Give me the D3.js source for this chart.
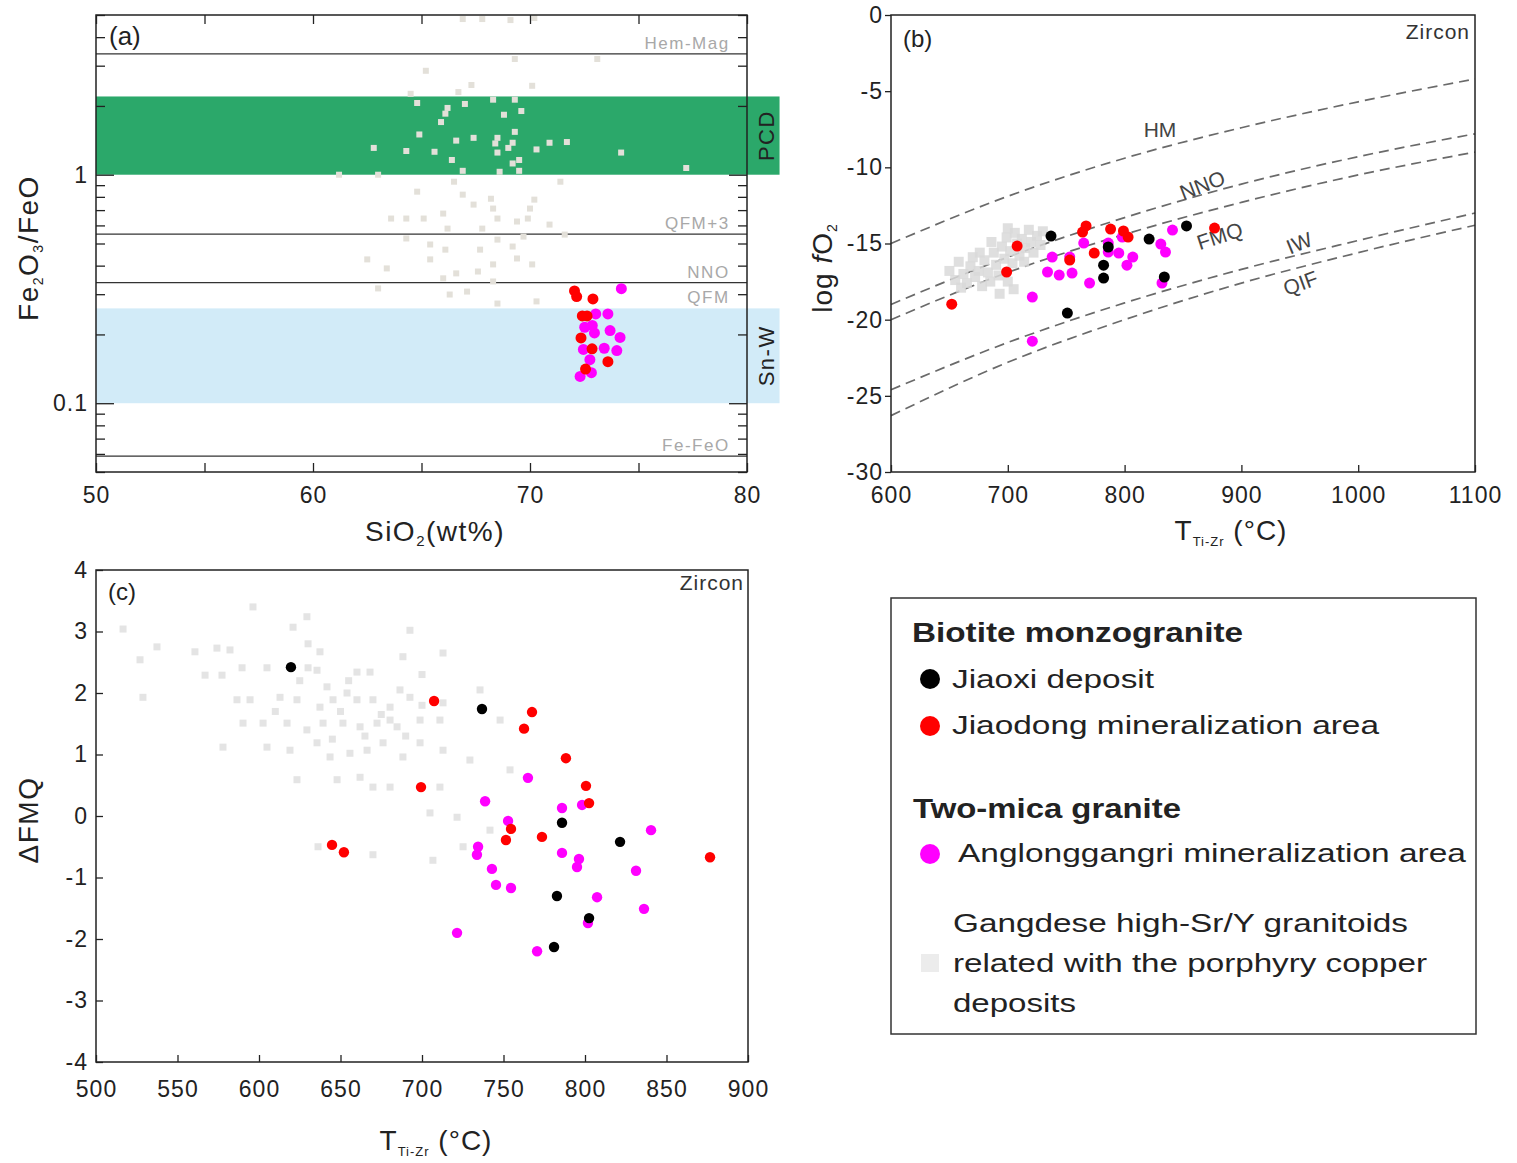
<!DOCTYPE html>
<html>
<head>
<meta charset="utf-8">
<script src="https://cdn.jsdelivr.net/npm/d3@7"></script>
<style>
  body { margin: 0; background: #fff; }
</style>
</head>
<body>
<div id="chart"></div>
<script>
// ---------- panel (a): Fe2O3/FeO vs SiO2 ----------
const aGray = [[66.9,4.80],[67.8,4.80],[69.1,4.75],[70.2,4.85],[69.3,3.21],[73.1,3.21],[65.2,2.85],[67.3,2.47],[66.7,2.30],[70.1,2.45],[64.5,2.26],
  [64.8,2.06],[66.2,1.96],[66.1,1.85],[67.0,2.04],[68.3,2.13],[69.3,2.13],[69.6,1.90],[68.8,1.83],[65.9,1.70],[69.3,1.54],[64.9,1.50],[66.6,1.41],
  [67.4,1.45],[68.5,1.45],[68.4,1.37],[69.2,1.38],[69.0,1.31],[62.8,1.31],[64.3,1.27],[65.6,1.26],[68.5,1.25],[70.3,1.29],[70.9,1.38],[71.7,1.39],
  [74.2,1.25],[66.4,1.16],[69.5,1.16],[69.2,1.12],[77.2,1.07],[66.9,1.04],[68.6,1.03],[69.5,1.04],[61.2,1.00],[63.0,1.00],
  [64.8,0.843],[66.5,0.932],[66.9,0.818],[67.4,0.740],[68.2,0.785],[68.3,0.711],[70.0,0.711],[70.2,0.778],[71.4,0.932],[63.6,0.643],[64.3,0.643],
  [65.1,0.643],[66.0,0.676],[66.2,0.581],[67.8,0.581],[68.5,0.643],[69.4,0.624],[69.9,0.643],[70.9,0.605],[71.6,0.547],[64.3,0.526],[65.4,0.495],
  [66.1,0.470],[67.7,0.470],[68.5,0.520],[69.2,0.485],[69.7,0.536],[62.5,0.426],[63.4,0.389],[65.4,0.426],[66.6,0.370],[67.6,0.377],[68.3,0.405],
  [69.4,0.430],[70.1,0.405],[63.0,0.318],[66.0,0.352],[68.3,0.341],[67.1,0.308],[66.3,0.299],[68.5,0.273],[70.3,0.279]];
const aRed = [[72.05,0.310],[72.15,0.293],[72.9,0.286],[72.41,0.241],[72.63,0.241],[72.35,0.193],[72.86,0.173],[73.59,0.152],[72.56,0.141]];
const aMagenta = [[74.21,0.317],[73.03,0.246],[73.59,0.246],[72.52,0.215],[72.87,0.219],[72.97,0.203],[73.69,0.208],[74.15,0.194],
  [72.46,0.172],[73.42,0.174],[74.0,0.170],[72.76,0.155],[72.31,0.131],[72.83,0.136]];
const aBandNames = ["PCD", "Sn-W"];
const aBandLow = [1.0, 0.1];
const aBandHigh = [2.2, 0.26];
const aBufferNames = ["Hem-Mag", "QFM+3", "NNO", "Fe-FeO"];
const aBufferValues = [3.38, 0.55, 0.337, 0.0587];
const aXTicks = [50, 55, 60, 65, 70, 75, 80];
const aYMajor = [0.1, 1];
const aYMinor = [0.05,0.06,0.07,0.08,0.09,0.2,0.3,0.4,0.5,0.6,0.7,0.8,0.9,2,3,4,5];

// ---------- panel (b): log fO2 vs T ----------
const bGray = [[650,-16.8],[655,-17.4],[658,-16.2],[662,-17.0],[665,-17.6],[668,-16.5],[670,-15.9],[672,-17.2],[675,-16.8],[678,-17.8],
  [680,-16.1],[683,-16.9],[685,-17.5],[688,-15.6],[690,-16.4],[692,-17.1],[695,-15.2],[697,-16.0],[699,-14.6],[702,-15.5],[704,-16.3],
  [706,-14.3],[708,-15.0],[710,-15.8],[712,-14.7],[715,-15.3],[718,-14.1],[720,-14.9],[722,-15.6],[725,-14.5],[728,-15.1],[693,-18.3],
  [700,-17.5],[705,-18.0],[660,-17.9],[676,-15.6],[686,-14.9],[700,-14.0],[714,-16.2],[730,-14.2]];
const bBlack = [[737,-14.51],[853,-13.85],[821,-14.71],[782,-16.42],[782,-17.27],[834,-17.20],[751,-19.57],[786,-15.23]];
const bRed = [[708,-15.17],[699,-16.87],[652,-18.98],[767,-13.85],[764,-14.25],[788,-14.05],[799,-14.18],[803,-14.58],[774,-15.63],[753,-16.09],[877,-13.99]];
const bMagenta = [[765,-14.97],[738,-15.89],[753,-15.89],[734,-16.87],[744,-17.07],[755,-16.94],[770,-17.60],[786,-14.97],[786,-15.56],
  [795,-15.63],[798,-14.58],[802,-16.42],[807,-15.89],[831,-15.04],[835,-15.56],[841,-14.12],[832,-17.60],[721,-18.52],[721,-21.41]];
const bBufferNames = ["HM", "NNO", "FMQ", "IW", "QIF"];
const bBufferT = [600, 700, 800, 900, 1000, 1100];
const bBufferLog = [
  [-15.0, -11.9, -9.4, -7.4, -5.7, -4.2],
  [-19.0, -15.9, -13.3, -11.1, -9.3, -7.8],
  [-20.0, -16.9, -14.4, -12.3, -10.5, -9.0],
  [-24.6, -21.5, -18.9, -16.7, -14.8, -13.0],
  [-26.3, -22.8, -20.0, -17.6, -15.6, -13.8]
];
const bXTicks = [600, 700, 800, 900, 1000, 1100];
const bYTicks = [0, -5, -10, -15, -20, -25, -30];

// ---------- panel (c): delta FMQ vs T ----------
const cGray = [[516.6,3.04],[537.4,2.75],[560.7,2.67],[574.2,2.73],[582.2,2.70],[596.3,3.40],[620.9,3.07],[630.1,2.80],[637.4,2.67],
  [566.9,2.29],[577.3,2.29],[589.6,2.41],[604.9,2.41],[630.1,2.41],[635.6,2.37],[641.7,2.10],[660.1,2.34],[668.1,2.34],[528.8,1.93],
  [586.5,1.89],[594.5,1.89],[612.9,1.93],[623.3,1.89],[637.4,1.77],[645.4,1.89],[654.0,2.00],[660.1,1.89],[669.9,1.89],[680.4,1.77],
  [692.6,1.93],[712.9,1.84],[590.2,1.51],[602.5,1.51],[617.2,1.51],[629.4,1.40],[639.3,1.51],[651.5,1.51],[662.0,1.45],[672.4,1.51],
  [684.7,1.45],[698.8,1.56],[711.0,1.56],[577.9,1.12],[604.9,1.12],[619.0,1.07],[635.6,1.19],[643.6,0.96],[655.8,1.02],[666.3,1.07],
  [676.1,1.19],[688.3,0.96],[698.8,1.19],[712.9,1.07],[623.3,0.59],[647.9,0.59],[662.0,0.63],[669.9,0.47],[680.4,0.47],[711.0,0.47],
  [704.9,0.05],[721.5,-0.02],[706.7,-0.72],[669.9,-0.63],[636.2,-0.50],[725.2,-0.50],[629.4,3.24],[692.6,3.02],[712.9,2.65],[688.3,2.59],
  [735.6,2.05],[747.9,1.56],[754.0,0.75],[729.4,0.91],[741.7,-0.23],[680.4,1.56],[686.5,2.05],[527.0,2.54],[650.0,1.70],[665.0,1.30],
  [675.0,1.65],[690.0,1.30],[700.0,1.80],[655.0,2.20],[645.0,1.25],[610.0,1.70],[625.0,2.20],[700.0,2.30]];
const cBlack = [[619.6,2.42],[736.8,1.74],[785.9,-0.11],[821.5,-0.42],[782.8,-1.30],[802.5,-1.66],[781.0,-2.13]];
const cRed = [[707.4,1.87],[767.5,1.69],[762.6,1.42],[788.3,0.94],[699.4,0.47],[800.6,0.49],[802.5,0.21],[754.6,-0.21],[751.5,-0.39],
  [773.6,-0.34],[876.7,-0.67],[644.8,-0.47],[652.1,-0.59]];
const cMagenta = [[765.0,0.62],[738.7,0.24],[785.9,0.13],[798.2,0.18],[752.8,-0.08],[840.5,-0.23],[734.4,-0.50],[733.7,-0.63],[785.9,-0.60],
  [796.3,-0.70],[795.1,-0.83],[742.9,-0.86],[831.3,-0.89],[745.4,-1.12],[754.6,-1.17],[807.4,-1.32],[836.2,-1.51],[801.8,-1.74],[721.5,-1.90],[770.6,-2.20]];
const cXTicks = [500, 550, 600, 650, 700, 750, 800, 850, 900];
const cYTicks = [-4, -3, -2, -1, 0, 1, 2, 3, 4];

// ---------- legend ----------
const legendHeaders = ["Biotite monzogranite", "Two-mica granite"];
const legendItems = ["Jiaoxi deposit", "Jiaodong mineralization area", "Anglonggangri mineralization area"];
const legendGrayLines = ["Gangdese high-Sr/Y granitoids", "related with the porphyry copper", "deposits"];

const RED = "#ff0000", MAG = "#ff00ff", BLACK = "#000000";
const plain = d => String(d);   // hyphen minus, no thousands separator

const svg = d3.select("#chart").append("svg")
    .attr("width", 1517).attr("height", 1163)
    .style("font-family", "'Liberation Sans', Arial, sans-serif");
svg.append("rect").attr("width", 1517).attr("height", 1163).attr("fill", "#fff");

function styleAxis(g) {
    g.select(".domain").remove();
    g.selectAll(".tick line").attr("stroke", "#222").attr("stroke-width", 1.3);
    g.selectAll(".tick text").attr("fill", "#222").attr("font-size", 23)
        .attr("letter-spacing", 1).attr("font-family", "'Liberation Sans', Arial, sans-serif");
}

function dots(g, data, x, y, color, r) {
    g.append("g").selectAll("circle").data(data).join("circle")
        .attr("cx", d => x(d[0])).attr("cy", d => y(d[1])).attr("r", r).attr("fill", color);
}

function squares(g, data, x, y, color, s, op) {
    g.append("g").selectAll("rect").data(data).join("rect")
        .attr("x", d => x(d[0]) - s / 2).attr("y", d => y(d[1]) - s / 2)
        .attr("width", s).attr("height", s).attr("fill", color).attr("opacity", op);
}

// =============== panel (a) ===============
const xA = d3.scaleLinear().domain([50, 80]).range([96, 747]);
const yA = d3.scaleLog().domain([0.05, 5]).range([472, 15]);
const gA = svg.append("g");

const bandColors = ["#2ba86a", "#d2ebf8"];
gA.selectAll("rect.band").data(aBandNames).join("rect").attr("class", "band")
    .attr("x", xA(50)).attr("width", xA(81.5) - xA(50))
    .attr("y", (d, i) => yA(aBandHigh[i]))
    .attr("height", (d, i) => yA(aBandLow[i]) - yA(aBandHigh[i]))
    .attr("fill", (d, i) => bandColors[i]);

gA.selectAll("text.band").data(aBandNames).join("text").attr("class", "band")
    .attr("transform", (d, i) => `translate(${xA(81.5) - 6},${yA(Math.sqrt(aBandLow[i] * aBandHigh[i]))}) rotate(-90)`)
    .attr("text-anchor", "middle").attr("font-size", 22).attr("letter-spacing", 1.5)
    .attr("fill", "#222").text(d => d);

gA.selectAll("line.buffer").data(aBufferValues).join("line").attr("class", "buffer")
    .attr("x1", xA(50)).attr("x2", xA(80))
    .attr("y1", d => yA(d)).attr("y2", d => yA(d))
    .attr("stroke", "#333").attr("stroke-width", 1.2);

const aBufferLabelNames = aBufferNames.concat(["QFM"]);
const aBufferLabelValues = aBufferValues.concat([0.262]);
gA.selectAll("text.buffer").data(aBufferLabelNames).join("text").attr("class", "buffer")
    .attr("x", xA(79.2)).attr("y", (d, i) => yA(aBufferLabelValues[i]) - 5)
    .attr("text-anchor", "end").attr("font-size", 17).attr("letter-spacing", 1.5)
    .attr("fill", "#a8a8a8").text(d => d);

squares(gA, aGray, xA, yA, "#e3e0d9", 6, 1);
dots(gA, aMagenta, xA, yA, MAG, 5.5);
dots(gA, aRed, xA, yA, RED, 5.5);

gA.append("g").attr("transform", "translate(0,472)")
    .call(d3.axisBottom(xA).tickValues(aXTicks).tickSize(-9).tickSizeOuter(0).tickPadding(15)
        .tickFormat(d => d % 10 === 0 ? plain(d) : "")).call(styleAxis);
gA.append("g").attr("transform", "translate(0,15)")
    .call(d3.axisTop(xA).tickValues(aXTicks).tickSize(-9).tickSizeOuter(0).tickFormat("")).call(styleAxis);
gA.append("g").attr("transform", "translate(96,0)")
    .call(d3.axisLeft(yA).tickValues(aYMinor).tickSize(-9).tickSizeOuter(0).tickFormat("")).call(styleAxis);
gA.append("g").attr("transform", "translate(96,0)")
    .call(d3.axisLeft(yA).tickValues(aYMajor).tickSize(-18).tickSizeOuter(0).tickPadding(8)
        .tickFormat(d => d === 1 ? "1" : "0.1")).call(styleAxis);
gA.append("g").attr("transform", "translate(747,0)")
    .call(d3.axisRight(yA).tickValues(aYMinor).tickSize(-9).tickSizeOuter(0).tickFormat("")).call(styleAxis);
gA.append("g").attr("transform", "translate(747,0)")
    .call(d3.axisRight(yA).tickValues(aYMajor).tickSize(-18).tickSizeOuter(0).tickFormat("")).call(styleAxis);

gA.append("rect").attr("x", 96).attr("y", 15).attr("width", 651).attr("height", 457)
    .attr("fill", "none").attr("stroke", "#222").attr("stroke-width", 1.5);
gA.append("text").attr("x", 109).attr("y", 45).attr("font-size", 26).attr("fill", "#222").text("(a)");

const tA = gA.append("text").attr("x", 435).attr("y", 541).attr("text-anchor", "middle")
    .attr("font-size", 28).attr("letter-spacing", 1.5).attr("fill", "#222");
tA.append("tspan").text("SiO");
tA.append("tspan").attr("font-size", 15).attr("dy", 5).text("2");
tA.append("tspan").attr("dy", -5).text("(wt%)");

const tAy = gA.append("text").attr("transform", "translate(38,248) rotate(-90)").attr("text-anchor", "middle")
    .attr("font-size", 28).attr("letter-spacing", 1.5).attr("fill", "#222");
tAy.append("tspan").text("Fe");
tAy.append("tspan").attr("font-size", 14).attr("dy", 5).text("2");
tAy.append("tspan").attr("dy", -5).text("O");
tAy.append("tspan").attr("font-size", 14).attr("dy", 5).text("3");
tAy.append("tspan").attr("dy", -5).text("/FeO");

// =============== panel (b) ===============
const xB = d3.scaleLinear().domain([600, 1100]).range([891, 1475]);
const yB = d3.scaleLinear().domain([-30, 0]).range([472, 15]);
const gB = svg.append("g");

const bufLine = d3.line().x(d => xB(d[0])).y(d => yB(d[1])).curve(d3.curveMonotoneX);
gB.selectAll("path.buffer").data(bBufferLog).join("path").attr("class", "buffer")
    .attr("d", row => bufLine(row.map((v, i) => [bBufferT[i], v])))
    .attr("fill", "none").attr("stroke", "#6a6a6a").attr("stroke-width", 1.7)
    .attr("stroke-dasharray", "10,6");

const bLabelPos = [[1160, 137, 0], [1205, 192, -21], [1222, 243, -18], [1302, 250, -22], [1303, 290, -20]];
gB.selectAll("text.buffer").data(bBufferNames).join("text").attr("class", "buffer")
    .attr("transform", (d, i) => `translate(${bLabelPos[i][0]},${bLabelPos[i][1]}) rotate(${bLabelPos[i][2]})`)
    .attr("text-anchor", "middle").attr("font-size", 21).attr("fill", "#444").text(d => d);

squares(gB, bGray, xB, yB, "#d9d9d9", 10, 0.85);
dots(gB, bMagenta, xB, yB, MAG, 5.5);
dots(gB, bRed, xB, yB, RED, 5.5);
dots(gB, bBlack, xB, yB, BLACK, 5.5);

gB.append("g").attr("transform", "translate(0,472)")
    .call(d3.axisBottom(xB).tickValues(bXTicks).tickSize(-7).tickSizeOuter(0).tickPadding(15).tickFormat(plain)).call(styleAxis);
gB.append("g").attr("transform", "translate(891,0)")
    .call(d3.axisLeft(yB).tickValues(bYTicks).tickSize(6).tickSizeOuter(0).tickPadding(2).tickFormat(plain)).call(styleAxis);

gB.append("rect").attr("x", 891).attr("y", 15).attr("width", 584).attr("height", 457)
    .attr("fill", "none").attr("stroke", "#222").attr("stroke-width", 1.5);
gB.append("text").attr("x", 903).attr("y", 47).attr("font-size", 24).attr("fill", "#222").text("(b)");
gB.append("text").attr("x", 1470).attr("y", 39).attr("text-anchor", "end").attr("font-size", 21)
    .attr("letter-spacing", 1).attr("fill", "#333").text("Zircon");

const tBy = gB.append("text").attr("transform", "translate(832,268) rotate(-90)").attr("text-anchor", "middle")
    .attr("font-size", 28).attr("letter-spacing", 1).attr("fill", "#222");
tBy.append("tspan").text("log ");
tBy.append("tspan").attr("font-style", "italic").text("f");
tBy.append("tspan").text("O");
tBy.append("tspan").attr("font-size", 14).attr("dy", 5).text("2");

function tTitle(g, cx, base) {
    const t = g.append("text").attr("x", cx).attr("y", base).attr("text-anchor", "middle")
        .attr("font-size", 28).attr("letter-spacing", 1).attr("fill", "#222");
    t.append("tspan").text("T");
    t.append("tspan").attr("font-size", 13).attr("dy", 6).text("Ti-Zr");
    t.append("tspan").attr("dy", -6).text(" (°C)");
}
tTitle(gB, 1231, 540);

// =============== panel (c) ===============
const xC = d3.scaleLinear().domain([500, 900]).range([96, 748]);
const yC = d3.scaleLinear().domain([-4, 4]).range([1062, 570]);
const gC = svg.append("g");

squares(gC, cGray, xC, yC, "#e4e4e4", 7, 1);
dots(gC, cMagenta, xC, yC, MAG, 5.2);
dots(gC, cRed, xC, yC, RED, 5.2);
dots(gC, cBlack, xC, yC, BLACK, 5.2);

gC.append("g").attr("transform", "translate(0,1062)")
    .call(d3.axisBottom(xC).tickValues(cXTicks).tickSize(-7).tickSizeOuter(0).tickPadding(19).tickFormat(plain)).call(styleAxis);
gC.append("g").attr("transform", "translate(96,0)")
    .call(d3.axisLeft(yC).tickValues(cYTicks).tickSize(-7).tickSizeOuter(0).tickPadding(8).tickFormat(plain)).call(styleAxis);

gC.append("rect").attr("x", 96).attr("y", 570).attr("width", 652).attr("height", 492)
    .attr("fill", "none").attr("stroke", "#222").attr("stroke-width", 1.5);
gC.append("text").attr("x", 108).attr("y", 600).attr("font-size", 24).attr("fill", "#222").text("(c)");
gC.append("text").attr("x", 744).attr("y", 590).attr("text-anchor", "end").attr("font-size", 21)
    .attr("letter-spacing", 1).attr("fill", "#333").text("Zircon");

gC.append("text").attr("transform", "translate(38,820) rotate(-90)").attr("text-anchor", "middle")
    .attr("font-size", 28).attr("letter-spacing", 1.5).attr("fill", "#222").text("ΔFMQ");
tTitle(gC, 436, 1150);

// =============== legend ===============
const gL = svg.append("g");
gL.append("rect").attr("x", 891).attr("y", 598).attr("width", 585).attr("height", 436)
    .attr("fill", "#fff").attr("stroke", "#333").attr("stroke-width", 1.5);

const headerPos = [[912, 642, 331], [913, 818, 268]];
gL.selectAll("text.header").data(legendHeaders).join("text").attr("class", "header")
    .attr("x", (d, i) => headerPos[i][0]).attr("y", (d, i) => headerPos[i][1])
    .attr("textLength", (d, i) => headerPos[i][2]).attr("lengthAdjust", "spacingAndGlyphs")
    .attr("font-size", 27).attr("font-weight", "bold").attr("fill", "#222").text(d => d);

const itemColors = [BLACK, RED, MAG];
const itemPos = [[952, 688, 202, 679], [952, 734, 427, 726], [958, 862, 508, 854]];
gL.selectAll("circle.item").data(legendItems).join("circle").attr("class", "item")
    .attr("cx", 930).attr("cy", (d, i) => itemPos[i][3]).attr("r", 10)
    .attr("fill", (d, i) => itemColors[i]);
gL.selectAll("text.item").data(legendItems).join("text").attr("class", "item")
    .attr("x", (d, i) => itemPos[i][0]).attr("y", (d, i) => itemPos[i][1])
    .attr("textLength", (d, i) => itemPos[i][2]).attr("lengthAdjust", "spacingAndGlyphs")
    .attr("font-size", 26).attr("fill", "#222").text(d => d);

gL.append("rect").attr("x", 921).attr("y", 954).attr("width", 18).attr("height", 18)
    .attr("fill", "#ececec");
const grayPos = [[953, 932, 455], [953, 972, 474], [953, 1012, 123]];
gL.selectAll("text.gray").data(legendGrayLines).join("text").attr("class", "gray")
    .attr("x", (d, i) => grayPos[i][0]).attr("y", (d, i) => grayPos[i][1])
    .attr("textLength", (d, i) => grayPos[i][2]).attr("lengthAdjust", "spacingAndGlyphs")
    .attr("font-size", 26).attr("fill", "#222").text(d => d);
</script>
</body>
</html>
